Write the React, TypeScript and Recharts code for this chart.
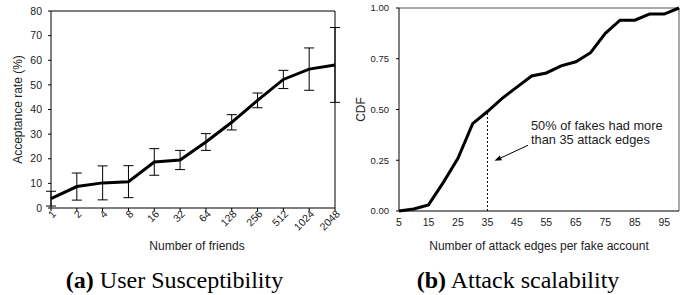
import { Line, LineChart, XAxis, YAxis, ErrorBar, ReferenceLine } from 'recharts'

// (a) acceptance rate vs. number of friends
const FRIENDS = ['1', '2', '4', '8', '16', '32', '64', '128', '256', '512', '1024', '2048']
const ACCEPT = [3.8, 8.7, 10.2, 10.7, 18.7, 19.5, 26.8, 34.8, 43.7, 52.2, 56.4, 58.1]
const ACCEPT_ERR = [3.0, 5.5, 6.9, 6.5, 5.4, 3.9, 3.4, 3.1, 3.0, 3.7, 8.6, 15.2]
const ACCEPT_TICKS = [0, 10, 20, 30, 40, 50, 60, 70, 80]

// (b) CDF of attack edges per fake account
const EDGES = [5, 10, 15, 20, 25, 30, 35, 40, 45, 50, 55, 60, 65, 70, 75, 80, 85, 90, 95, 100]
const CDF = [0, 0.01, 0.03, 0.14, 0.26, 0.43, 0.49, 0.555, 0.61, 0.665, 0.68, 0.715, 0.735, 0.78, 0.875, 0.94, 0.94, 0.97, 0.97, 1.0]
const EDGE_TICKS = [5, 15, 25, 35, 45, 55, 65, 75, 85, 95]
const CDF_TICKS = [0, 0.25, 0.5, 0.75, 1]
const MEDIAN_EDGES = 35
const MEDIAN_CDF = 0.49
const ARROW = [
  { x: 48.8, y: 0.324 },
  { x: 37.4, y: 0.247 },
]

const friendsData = FRIENDS.map((f, i) => ({ friends: f, rate: ACCEPT[i], err: ACCEPT_ERR[i] }))
const cdfData = EDGES.map((e, i) => ({ edges: e, cdf: CDF[i] }))

const SANS = '"Liberation Sans", Arial, sans-serif'
const SERIF = '"Liberation Serif", "Times New Roman", serif'
const tickStyle = { fill: '#222', fontSize: 10.5, fontFamily: SANS }

function RotatedTick({ x, y, payload }: any) {
  return (
    <g transform={`translate(${x + 3},${y})`}>
      <text
        textAnchor="end"
        transform="rotate(-45)"
        dy="0.35em"
        fill="#222"
        fontSize={10.5}
        fontFamily={SANS}
      >
        {payload.value}
      </text>
    </g>
  )
}

const yTitle = (text: string, x: number) => (props: any) => {
  const vb = props.viewBox
  const cy = vb.y + vb.height / 2
  return (
    <text
      x={x}
      y={cy}
      transform={`rotate(-90 ${x} ${cy})`}
      textAnchor="middle"
      dominantBaseline="central"
      fill="#222"
      fontSize={12}
      fontFamily={SANS}
    >
      {text}
    </text>
  )
}

function ArrowShape(props: any) {
  const { x1, y1, x2, y2 } = props
  const a = Math.atan2(y2 - y1, x2 - x1)
  const len = 7
  const hw = 2.6
  const bx = x2 - len * Math.cos(a)
  const by = y2 - len * Math.sin(a)
  const px = -Math.sin(a) * hw
  const py = Math.cos(a) * hw
  return (
    <g>
      <line x1={x1} y1={y1} x2={bx} y2={by} stroke="#000" strokeWidth={1} />
      <polygon points={`${x2},${y2} ${bx + px},${by + py} ${bx - px},${by - py}`} fill="#000" />
    </g>
  )
}

const captionStyle = {
  position: 'absolute' as const,
  top: 266,
  textAlign: 'center' as const,
  fontFamily: SERIF,
  fontSize: 24,
  lineHeight: '28px',
  color: '#000',
  whiteSpace: 'nowrap' as const,
}

export default function App() {
  return (
    <div
      style={{
        position: 'fixed',
        left: 0,
        top: 0,
        width: 692,
        height: 295,
        background: '#fff',
        overflow: 'hidden',
      }}
    >
      <div style={{ position: 'absolute', left: 0, top: 0 }}>
        <LineChart width={346} height={260} data={friendsData} margin={{ top: 11, right: 11, left: 0, bottom: 0 }}>
          <XAxis
            dataKey="friends"
            height={52}
            interval={0}
            tickSize={3}
            tickMargin={1}
            stroke="#000"
            tick={<RotatedTick />}
            label={{
              value: 'Number of friends',
              position: 'insideBottom',
              offset: 10,
              dx: 4,
              fill: '#222',
              fontSize: 12,
              fontFamily: SANS,
            }}
          />
          <YAxis
            width={51}
            domain={[0, 80]}
            ticks={ACCEPT_TICKS}
            tickSize={3}
            tickMargin={6}
            stroke="#000"
            tick={tickStyle}
            label={{ content: yTitle('Acceptance rate (%)', 18) }}
          />
          <ReferenceLine y={80} stroke="#000" strokeWidth={1} />
          <ReferenceLine x="2048" stroke="#000" strokeWidth={1} />
          <Line
            type="linear"
            dataKey="rate"
            stroke="#000"
            strokeWidth={3}
            dot={false}
            isAnimationActive={false}
          >
            <ErrorBar dataKey="err" direction="y" width={5} stroke="#000" strokeWidth={1} isAnimationActive={false} />
          </Line>
        </LineChart>
      </div>

      <div style={{ position: 'absolute', left: 346, top: 0 }}>
        <LineChart width={346} height={260} data={cdfData} margin={{ top: 8, right: 13, left: 0, bottom: 0 }}>
          <XAxis
            dataKey="edges"
            type="number"
            domain={[5, 100]}
            ticks={EDGE_TICKS}
            interval={0}
            height={49}
            tickSize={3}
            tickMargin={5}
            tickLine={false}
            stroke="#000"
            tick={tickStyle}
            label={{
              value: 'Number of attack edges per fake account',
              position: 'insideBottom',
              offset: 10,
              fill: '#222',
              fontSize: 12,
              fontFamily: SANS,
            }}
          />
          <YAxis
            width={53}
            domain={[0, 1]}
            ticks={CDF_TICKS}
            tickSize={3}
            tickMargin={7}
            tickFormatter={(v: number) => v.toFixed(2)}
            stroke="#000"
            tick={{ ...tickStyle, fontSize: 9.5 }}
            label={{ content: yTitle('CDF', 15) }}
          />
          <ReferenceLine y={1} stroke="#555" strokeWidth={1} />
          <ReferenceLine x={100} stroke="#555" strokeWidth={1} />
          <ReferenceLine
            segment={[
              { x: MEDIAN_EDGES, y: 0 },
              { x: MEDIAN_EDGES, y: MEDIAN_CDF },
            ]}
            stroke="#000"
            strokeWidth={1}
            strokeDasharray="2 2"
          />
          <ReferenceLine segment={ARROW} shape={ArrowShape} />
          <Line
            type="linear"
            dataKey="cdf"
            stroke="#000"
            strokeWidth={3}
            dot={false}
            isAnimationActive={false}
          />
        </LineChart>
      </div>

      <div
        style={{
          position: 'absolute',
          left: 531,
          top: 119,
          fontFamily: SANS,
          fontSize: 12.8,
          lineHeight: '13.5px',
          color: '#222',
          whiteSpace: 'nowrap',
        }}
      >
        50% of fakes had more
        <br />
        than 35 attack edges
      </div>

      <div style={{ ...captionStyle, left: 0, width: 349 }}>
        <b>(a)</b> User Susceptibility
      </div>
      <div style={{ ...captionStyle, left: 346, width: 344 }}>
        <b>(b)</b> Attack scalability
      </div>
    </div>
  )
}
